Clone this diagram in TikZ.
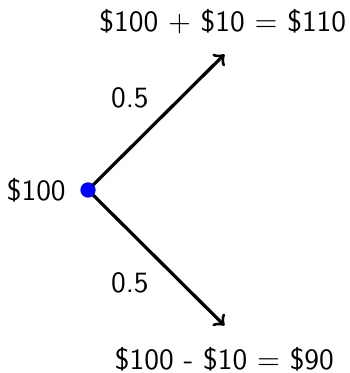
\documentclass[tikz,border=0pt]{standalone}
\usepackage{tikz}

\begin{document}
\begin{tikzpicture}[font=\sffamily]
	\tikzset{
		price/.style={anchor=base, inner sep=0pt},
		prob/.style={anchor=base, inner sep=0pt},
		branch/.style={->, line width=1.1pt}
	}
	\useasboundingbox (-1.052,-2.187) rectangle (3.12,2.27);
	
	% Start
	\coordinate (root) at (0,0);
	\node[anchor=east, inner sep=0pt] (start) at (-0.26,0) {\$100};
	
	% Up move
	\coordinate (up) at (1.63,1.62);
	\draw[branch] (root) -- (up);
	\node[price] (upval) at (1.61,1.89) {\$100 $+$ \$10 $=$ \$110};
	\node[prob] (pup) at (0.5,0.99) {0.5};
	
	% Down move
	\coordinate (down) at (1.63,-1.62);
	\draw[branch] (root) -- (down);
	\node[price] (downval) at (1.63,-2.15) {\$100 - \$10 $=$ \$90};
	\node[prob] (pdown) at (0.5,-1.23) {0.5};
	
	% Dot on top
	\node[circle, fill=blue, inner sep=0pt, minimum size=5.2pt] (dot) at (root) {};
\end{tikzpicture}
\end{document}
